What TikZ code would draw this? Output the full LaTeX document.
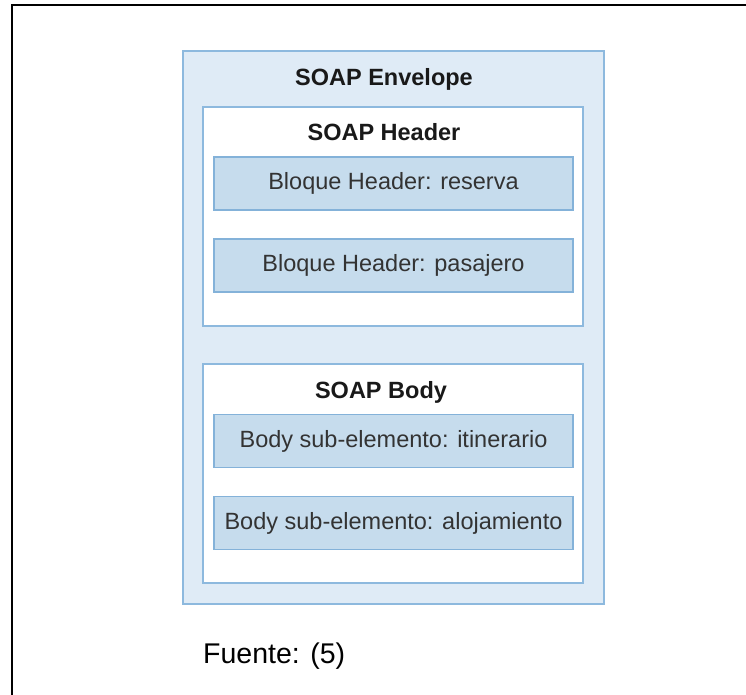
\documentclass[tikz,border=0pt]{standalone}
\usepackage{fontspec}
\setmainfont{Liberation Sans}
\definecolor{envfill}{HTML}{DFEBF6}
\definecolor{boxline}{HTML}{8DB9DE}
\definecolor{blockfill}{HTML}{C6DCED}
\definecolor{blockline}{HTML}{84B2D9}
\definecolor{txt}{HTML}{333333}
\tikzset{
  envbox/.style={draw=boxline, fill=envfill, line width=1.5pt, inner sep=0pt},
  partbox/.style={draw=boxline, fill=white, line width=1.5pt, inner sep=0pt},
  blockbox/.style={draw=blockline, fill=blockfill, line width=1.5pt, inner sep=0pt,
    minimum width=359pt, minimum height=53pt, text=txt,
    font=\fontsize{23.5}{27}\selectfont},
  title/.style={anchor=base, inner sep=0pt, text=black!90,
    font=\bfseries\fontsize{23.5}{27}\selectfont},
  frameline/.style={line width=2pt, black}
}
\begin{document}
\begin{tikzpicture}[x=1pt, y=-1pt]
\useasboundingbox (0,0) rectangle (746,695);
% page frame (top and left edges)
\coordinate (fr1) at (746,5.5);
\coordinate (fr2) at (11.5,5.5);
\coordinate (fr3) at (11.5,695);
\draw[frameline] (fr1) -- (fr2) -- (fr3);
% envelope
\node[envbox, minimum width=421pt, minimum height=553pt] (env) at (393.5,327.5) {};
\node[title] (envT) at (384,86) {SOAP Envelope};
% header
\node[partbox, minimum width=380pt, minimum height=219pt] (hdr) at (393,216.5) {};
\node[title] (hdrT) at (384,141) {SOAP Header};
\node[blockbox] (b1) at (393.5,183.5) {Bloque Header: reserva};
\node[blockbox] (b2) at (393.5,265.5) {Bloque Header: pasajero};
% body
\node[partbox, minimum width=380pt, minimum height=219pt] (bdy) at (393,473.5) {};
\node[title] (bdyT) at (381,398) {SOAP Body};
\node[blockbox] (b3) at (393.5,441) {Body sub-elemento: itinerario};
\node[blockbox] (b4) at (393.5,523) {Body sub-elemento: alojamiento};
% source note
\node[anchor=base west, inner sep=0pt, font=\fontsize{28.5}{33}\selectfont] (src) at (203,663) {Fuente: (5)};
\end{tikzpicture}
\end{document}
